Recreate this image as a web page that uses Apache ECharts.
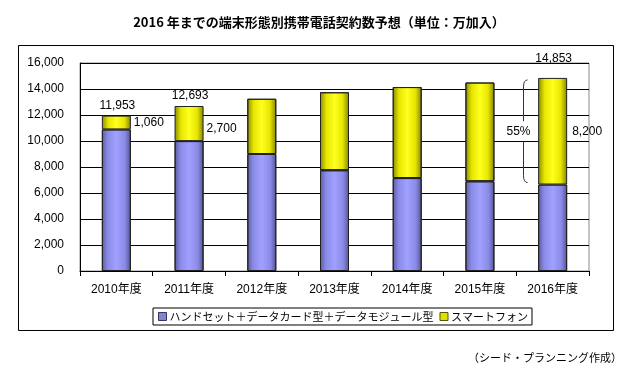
<!DOCTYPE html>
<html>
<head>
<meta charset="utf-8">
<script src="https://cdn.jsdelivr.net/npm/echarts@6/dist/echarts.min.js"></script>
<style>
html,body{margin:0;padding:0;background:#fff;}
#chart{width:629px;height:380px;}
</style>
</head>
<body>
<div id="chart"></div>
<script>
var categories = ['2010年度','2011年度','2012年度','2013年度','2014年度','2015年度','2016年度'];
var handsetValues = [10893, 9993, 9000, 7750, 7150, 6900, 6653];
var smartphoneValues = [1060, 2700, 4250, 6000, 7000, 7600, 8200];
var yTicks = [0, 2000, 4000, 6000, 8000, 10000, 12000, 14000, 16000];
var seriesNames = ['ハンドセット＋データカード型＋データモジュール型', 'スマートフォン'];
var labeledTotals = [0, 1, 6];
var titleText = '2016 年までの端末形態別携帯電話契約数予想（単位：万加入）';
var sourceText = '（シード・プランニング作成）';

var FONT = "'Liberation Sans', 'Noto Sans CJK JP', sans-serif";
var JFONT = "'Noto Sans CJK JP', sans-serif";
function fmt(v){ return v.toLocaleString('en-US'); }

var chart = echarts.init(document.getElementById('chart'), null, {renderer:'canvas'});

var blueGrad = new echarts.graphic.LinearGradient(0,0,1,0,[
  {offset:0,color:'#5a5aa0'},{offset:0.2,color:'#8a8ae6'},{offset:0.5,color:'#a0a0ff'},
  {offset:0.8,color:'#8a8ae6'},{offset:1,color:'#525294'}]);
var yellowGrad = new echarts.graphic.LinearGradient(0,0,1,0,[
  {offset:0,color:'#8a8a00'},{offset:0.22,color:'#e6e600'},{offset:0.5,color:'#ffff20'},
  {offset:0.78,color:'#e6e600'},{offset:1,color:'#828200'}]);

var smartData = smartphoneValues.map(function(v,i){
  var item = {value:v};
  if (labeledTotals.indexOf(i) >= 0) {
    item.label = {show:true, position:'right', distance: i===6 ? 5 : 3,
      offset:[0, i===1 ? 5 : 0], formatter: fmt(v)};
  }
  return item;
});

var totalPoints = labeledTotals.map(function(i){
  var t = handsetValues[i] + smartphoneValues[i];
  return {coord:[i, t], value:t, label:{offset:[1, i===6 ? -9 : 0]}};
});

var option = {
  animation:false,
  backgroundColor:'#fff',
  textStyle:{fontFamily:FONT},
  title:{text:titleText, left:314, top:11, textAlign:'center',
    textStyle:{fontSize:13, fontWeight:'bold', color:'#000', fontFamily:JFONT}},
  grid:{left:80, right:40, top:63, bottom:109, show:true, borderColor:'#8c8c8c', borderWidth:1, backgroundColor:'transparent'},
  legend:{
    left:153, top:308, itemWidth:8, itemHeight:8, itemGap:6, icon:'rect',
    borderColor:'#000', borderWidth:1, padding:[3,4,3,5], borderRadius:0,
    textStyle:{fontSize:11, color:'#000', fontFamily:JFONT, padding:[0,0,0,-2]},
    data:[
      {name:seriesNames[0], itemStyle:{color:'#8585c8', borderColor:'#333366', borderWidth:1}},
      {name:seriesNames[1], itemStyle:{color:'#e0e000', borderColor:'#555500', borderWidth:1}}
    ]
  },
  xAxis:{type:'category', data:categories,
    axisLine:{lineStyle:{color:'#000', width:1}},
    axisTick:{show:true, alignWithLabel:false, length:5, lineStyle:{color:'#000'}},
    axisLabel:{color:'#000', fontSize:12, margin:13, fontFamily:FONT}},
  yAxis:{type:'value', min:yTicks[0], max:yTicks[yTicks.length-1], interval:yTicks[1]-yTicks[0],
    axisLine:{show:true, lineStyle:{color:'#000', width:1}},
    axisTick:{show:false},
    splitLine:{lineStyle:{color:'#000', width:1}},
    axisLabel:{color:'#000', fontSize:12, margin:16, fontFamily:FONT, formatter:function(v){return fmt(v);}}},
  series:[
    {name:seriesNames[0], type:'bar', stack:'total', barWidth:29, data:handsetValues,
      itemStyle:{color:blueGrad, borderColor:'#222', borderWidth:1}},
    {name:seriesNames[1], type:'bar', stack:'total', barWidth:29, data:smartData,
      itemStyle:{color:yellowGrad, borderColor:'#222', borderWidth:1},
      label:{color:'#000', fontSize:12, fontFamily:FONT},
      markPoint:{symbol:'circle', symbolSize:0, data:totalPoints,
        label:{show:true, position:'top', distance:4, color:'#000', fontSize:12, fontFamily:FONT,
          formatter:function(p){return fmt(p.value);}}}}
  ]
};
chart.setOption(option);

// annotations: outer frame, source, share brace
var last = categories.length - 1;
var total = handsetValues[last] + smartphoneValues[last];
var share = Math.round(smartphoneValues[last] / total * 100) + '%';
var cx = chart.convertToPixel({xAxisIndex:0}, categories[last]);
var yTop = chart.convertToPixel({yAxisIndex:0}, total);
var yBot = chart.convertToPixel({yAxisIndex:0}, handsetValues[last]);
var bx = Math.round(cx - 30) + 0.5;
var yMid = (yTop + yBot) / 2;
var braceStyle = {fill:'none', stroke:'#333', lineWidth:1};
chart.setOption({
  graphic:[
    {type:'rect', shape:{x:18.5, y:45.5, width:595, height:285}, style:{fill:'none', stroke:'#000', lineWidth:1}, z:-1, silent:true},
    {type:'text', x:622, y:358, style:{text:sourceText, fontSize:11, fill:'#000', fontFamily:JFONT, align:'right', verticalAlign:'middle'}},
    {type:'bezierCurve', shape:{x1:bx+4, y1:yTop+2, x2:bx, y2:yTop+9, cpx1:bx, cpy1:yTop+2}, style:braceStyle, z:10},
    {type:'line', shape:{x1:bx, y1:yTop+9, x2:bx, y2:yMid-10}, style:braceStyle, z:10},
    {type:'line', shape:{x1:bx, y1:yMid+10, x2:bx, y2:yBot-9}, style:braceStyle, z:10},
    {type:'bezierCurve', shape:{x1:bx, y1:yBot-9, x2:bx+4, y2:yBot-2, cpx1:bx, cpy1:yBot-2}, style:braceStyle, z:10},
    {type:'text', x:bx-5, y:yMid, style:{text:share, fontSize:12, fill:'#000', fontFamily:FONT, align:'center', verticalAlign:'middle'}, z:10}
  ]
});
</script>
</body>
</html>
